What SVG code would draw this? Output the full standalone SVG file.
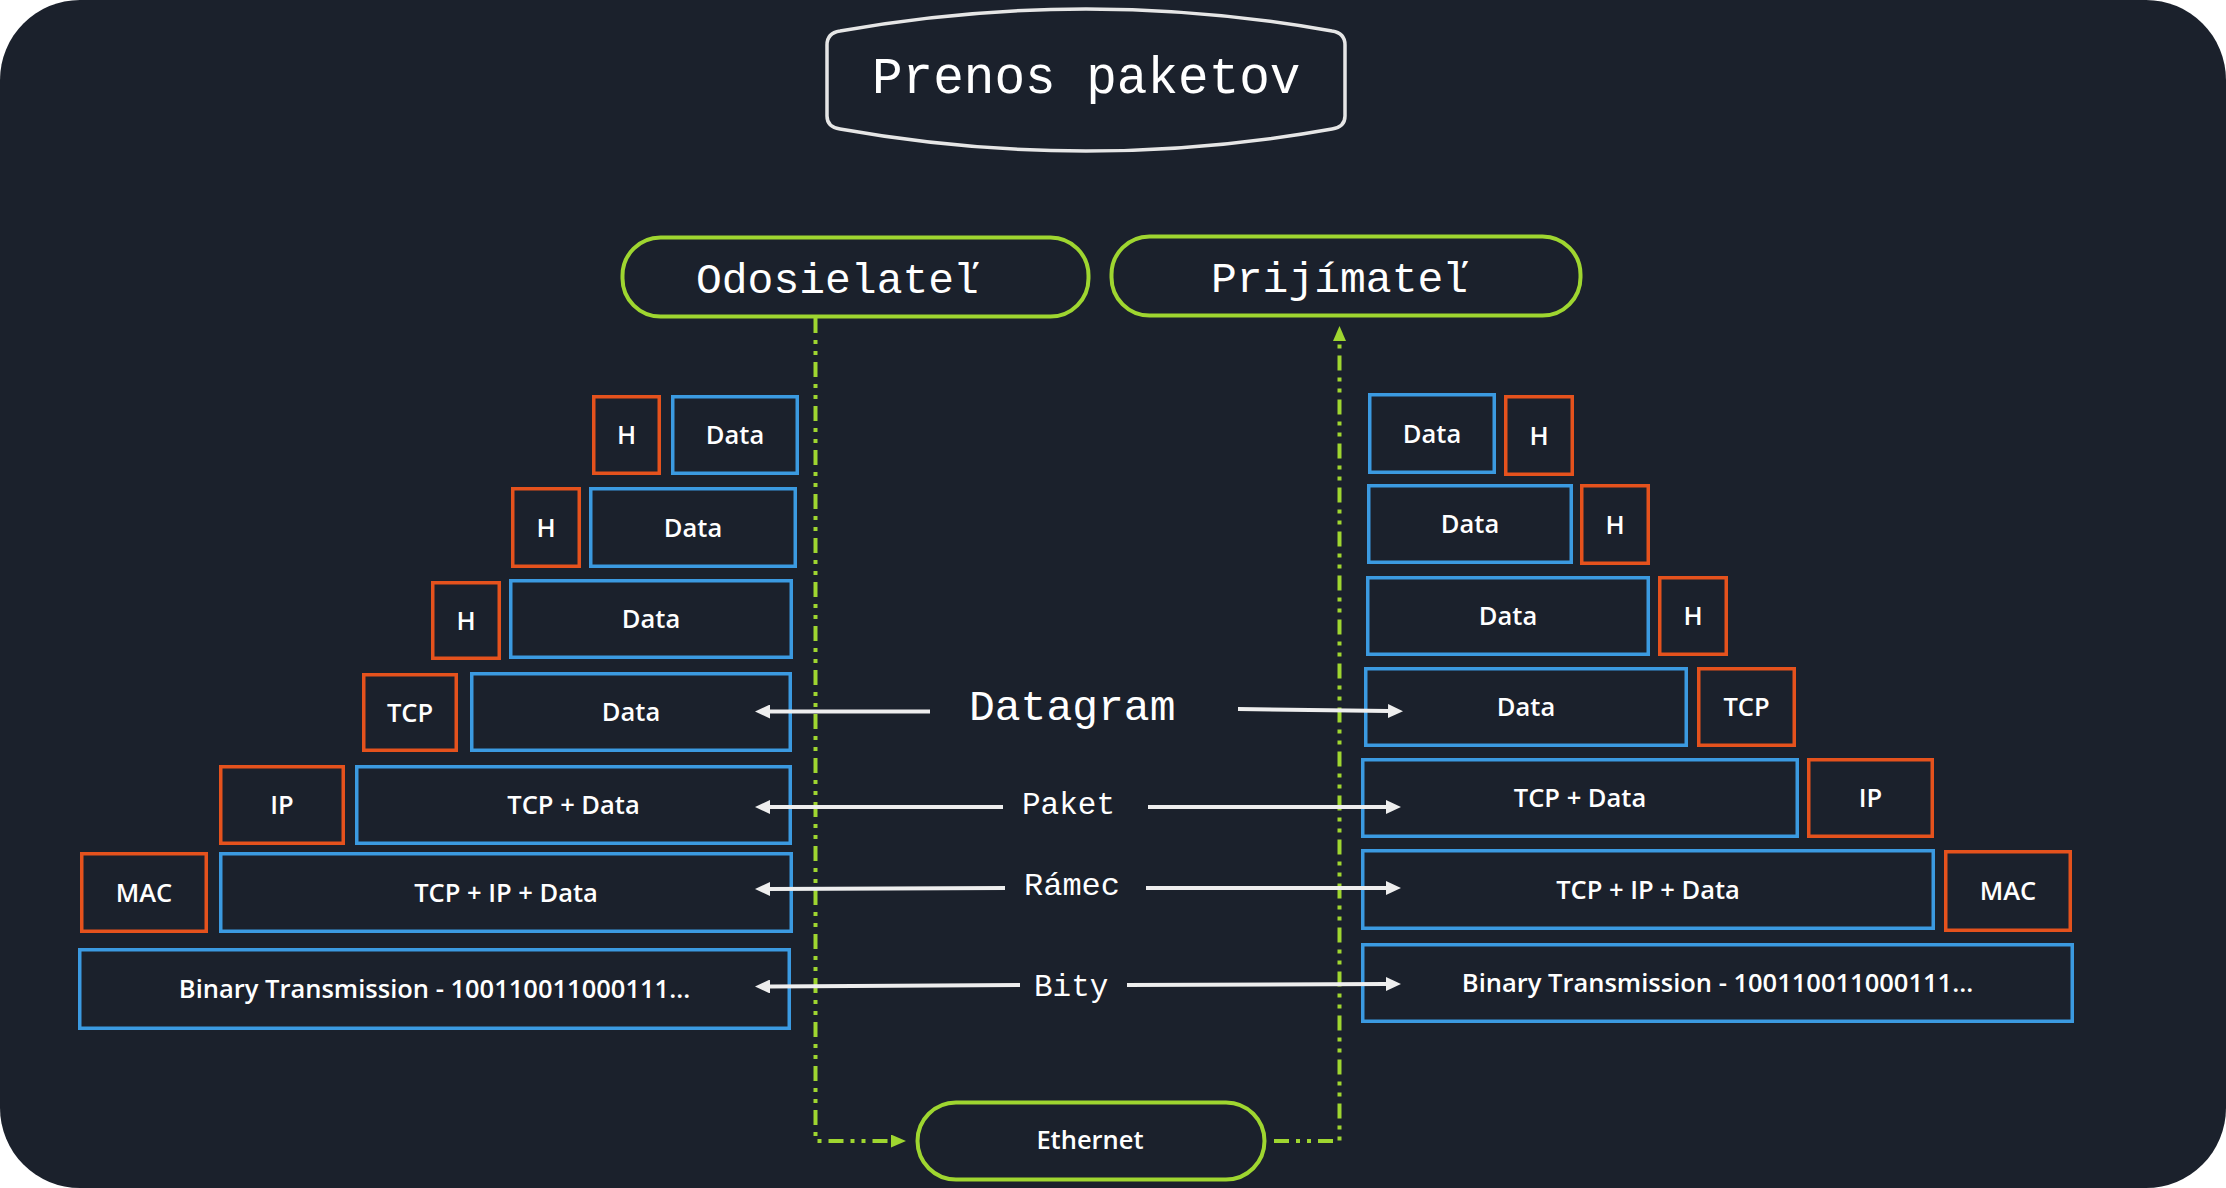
<svg xmlns="http://www.w3.org/2000/svg" width="2226" height="1188" viewBox="0 0 2226 1188">
<defs>
<style>
.bg{fill:#1b212c}
.blue{fill:none;stroke:#3b9ae1;stroke-width:3.5}
.org{fill:none;stroke:#e5521d;stroke-width:3.5}
.pill{fill:none;stroke:#9fd630;stroke-width:4}
.lbl{font-family:"Open Sans","Liberation Sans",sans-serif;font-weight:600;font-size:25.5px;fill:#ffffff;text-anchor:middle}
.mono{font-family:"Liberation Mono","DejaVu Sans Mono",monospace;fill:#ffffff}
.arr{stroke:#eeeeee;stroke-width:4;fill:none;marker-end:url(#wh)}
.dash{stroke:#9fd630;stroke-width:4;fill:none;stroke-dasharray:15 7 4 7 4 7;marker-end:url(#gr)}
</style>
<marker id="wh" markerUnits="userSpaceOnUse" markerWidth="16" markerHeight="14" refX="0" refY="7" orient="auto">
<path d="M0,0 L15,7 L0,14 Z" fill="#eeeeee"/>
</marker>
<marker id="gr" markerUnits="userSpaceOnUse" markerWidth="16" markerHeight="13" refX="0" refY="6.5" orient="auto">
<path d="M0,0 L15,6.5 L0,13 Z" fill="#9fd630"/>
</marker>
</defs>
<rect x="0" y="0" width="2226" height="1188" fill="#ffffff"/>
<rect class="bg" x="0" y="0" width="2226" height="1188" rx="80" ry="80"/>

<g id="title">
<path d="M 840,31 Q 1086,-13 1332,31 Q 1345,33 1345,45 L 1345,116 Q 1345,127 1332,129 Q 1086,173 840,129 Q 827,127 827,116 L 827,45 Q 827,33 840,31 Z" fill="none" stroke="#e6e6e6" stroke-width="3.5"/>
<text class="mono" x="872" y="93" font-size="51">Prenos paketov</text>
</g>

<g id="sender">
<rect class="pill" x="622.5" y="237.5" width="466" height="79" rx="38"/>
<text class="mono" x="696" y="293" font-size="43">Odosielateľ</text>
</g>
<g id="receiver">
<rect class="pill" x="1111.5" y="236.5" width="469" height="79" rx="38"/>
<text class="mono" x="1211" y="292" font-size="43">Prijímateľ</text>
</g>
<g id="ethernet">
<rect class="pill" x="917.5" y="1102.5" width="347" height="77" rx="38.5"/>
<text class="lbl" x="1090" y="1149" font-size="27">Ethernet</text>
</g>

<g id="left-stack">
<g id="l-h1"><rect class="org" x="593.75" y="396.75" width="65.5" height="76.5"/><text class="lbl" x="626.5" y="444">H</text></g>
<g id="l-data1"><rect class="blue" x="672.75" y="396.75" width="124.5" height="76.5"/><text class="lbl" x="735" y="444">Data</text></g>
<g id="l-h2"><rect class="org" x="512.75" y="488.75" width="66.5" height="77.5"/><text class="lbl" x="546" y="536.5">H</text></g>
<g id="l-data2"><rect class="blue" x="590.75" y="488.75" width="204.5" height="77.5"/><text class="lbl" x="693" y="536.5">Data</text></g>
<g id="l-h3"><rect class="org" x="432.75" y="582.75" width="66.5" height="75.5"/><text class="lbl" x="466" y="629.5">H</text></g>
<g id="l-data3"><rect class="blue" x="510.75" y="580.75" width="280.5" height="76.5"/><text class="lbl" x="651" y="628">Data</text></g>
<g id="l-tcp"><rect class="org" x="363.75" y="674.75" width="92.5" height="75.5"/><text class="lbl" x="410" y="721.5">TCP</text></g>
<g id="l-data4"><rect class="blue" x="471.75" y="673.75" width="318.5" height="76.5"/><text class="lbl" x="631" y="721">Data</text></g>
<g id="l-ip"><rect class="org" x="220.75" y="766.75" width="122.5" height="76.5"/><text class="lbl" x="282" y="814">IP</text></g>
<g id="l-tcpdata"><rect class="blue" x="356.75" y="766.75" width="433.5" height="76.5"/><text class="lbl" x="573.5" y="814">TCP + Data</text></g>
<g id="l-mac"><rect class="org" x="81.75" y="853.75" width="124.5" height="77.5"/><text class="lbl" x="144" y="901.5">MAC</text></g>
<g id="l-tcpipdata"><rect class="blue" x="220.75" y="853.75" width="570.5" height="77.5"/><text class="lbl" x="506" y="901.5">TCP + IP + Data</text></g>
<g id="l-binary"><rect class="blue" x="79.75" y="949.75" width="709.5" height="78.5"/><text class="lbl" x="434.5" y="998">Binary Transmission - 100110011000111...</text></g>
</g>

<g id="right-stack">
<g id="r-data1"><rect class="blue" x="1369.75" y="394.75" width="124.5" height="77.5"/><text class="lbl" x="1432" y="442.5">Data</text></g>
<g id="r-h1"><rect class="org" x="1505.75" y="396.75" width="66.5" height="77.5"/><text class="lbl" x="1539" y="444.5">H</text></g>
<g id="r-data2"><rect class="blue" x="1368.75" y="485.75" width="202.5" height="76.5"/><text class="lbl" x="1470" y="533">Data</text></g>
<g id="r-h2"><rect class="org" x="1581.75" y="485.75" width="66.5" height="77.5"/><text class="lbl" x="1615" y="533.5">H</text></g>
<g id="r-data3"><rect class="blue" x="1367.75" y="577.75" width="280.5" height="76.5"/><text class="lbl" x="1508" y="625">Data</text></g>
<g id="r-h3"><rect class="org" x="1659.75" y="577.75" width="66.5" height="76.5"/><text class="lbl" x="1693" y="625">H</text></g>
<g id="r-data4"><rect class="blue" x="1365.75" y="668.75" width="320.5" height="76.5"/><text class="lbl" x="1526" y="716">Data</text></g>
<g id="r-tcp"><rect class="org" x="1698.75" y="668.75" width="95.5" height="76.5"/><text class="lbl" x="1746.5" y="716">TCP</text></g>
<g id="r-tcpdata"><rect class="blue" x="1362.75" y="759.75" width="434.5" height="76.5"/><text class="lbl" x="1580" y="807">TCP + Data</text></g>
<g id="r-ip"><rect class="org" x="1808.75" y="759.75" width="123.5" height="76.5"/><text class="lbl" x="1870.5" y="807">IP</text></g>
<g id="r-tcpipdata"><rect class="blue" x="1362.75" y="850.75" width="570.5" height="77.5"/><text class="lbl" x="1648" y="898.5">TCP + IP + Data</text></g>
<g id="r-mac"><rect class="org" x="1945.75" y="851.75" width="124.5" height="78.5"/><text class="lbl" x="2008" y="900">MAC</text></g>
<g id="r-binary"><rect class="blue" x="1362.75" y="944.75" width="709.5" height="76.5"/><text class="lbl" x="1717.5" y="992">Binary Transmission - 100110011000111...</text></g>
</g>

<g id="layer-labels">
<text class="mono" x="969" y="720" font-size="43">Datagram</text>
<text class="mono" x="1022" y="814" font-size="31">Paket</text>
<text class="mono" x="1024" y="895" font-size="32">Rámec</text>
<text class="mono" x="1034" y="996" font-size="31">Bity</text>
</g>

<g id="connectors">
<path class="dash" d="M 815.5,318 V 1141 H 891"/>
<path class="dash" d="M 1274,1141 H 1339.5 V 341"/>
<path class="arr" d="M 930,711.5 H 770"/>
<path class="arr" d="M 1003,807 H 770"/>
<path class="arr" d="M 1005,888 L 770,889"/>
<path class="arr" d="M 1020,985 L 770,986.5"/>
<path class="arr" d="M 1238,709 L 1388,711"/>
<path class="arr" d="M 1148,807 H 1386"/>
<path class="arr" d="M 1146,888 H 1386"/>
<path class="arr" d="M 1127,985 L 1386,984"/>
</g>
</svg>
